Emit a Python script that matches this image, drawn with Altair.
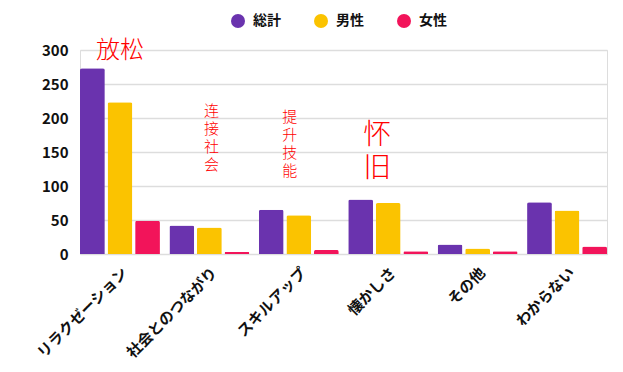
import altair as alt
import pandas as pd

categories = ["リラクゼーション", "社会とのつながり", "スキルアップ", "懐かしさ", "その他", "わからない"]
series = ["総計", "男性", "女性"]
total = [273, 42, 65, 80, 14, 76]
male = [223, 39, 57, 75, 8, 64]
female = [49, 3, 6, 4, 4, 11]
colors = ["#6a33ae", "#fbc300", "#f2145a"]
y_ticks = [0, 50, 100, 150, 200, 250, 300]

ann_text = ["放松", "连接社会", "提升技能", "怀旧"]
ann_cat = ["リラクゼーション", "社会とのつながり", "スキルアップ", "懐かしさ"]
ann_y = [298, 220, 212, 194]

rows = []
for i, c in enumerate(categories):
    for s, vals in zip(series, [total, male, female]):
        rows.append({"cat": c, "series": s, "value": vals[i]})
df = pd.DataFrame(rows)

ann = pd.DataFrame({
    "cat": ann_cat,
    "value": ann_y,
    "text": [t if k == 0 else "\n".join(t) for k, t in enumerate(ann_text)],
    "idx": list(range(len(ann_text))),
})

FONT = "Noto Sans CJK JP"

x_enc = alt.X("cat:N", sort=categories, title=None,
              scale=alt.Scale(paddingInner=0.106, paddingOuter=0),
              axis=alt.Axis(labelAngle=-45, labelFont=FONT, labelFontWeight="bold",
                            labelFontSize=15, labelColor="#111", ticks=False,
                            domain=False, labelPadding=11, labelLimit=200))
y_enc = alt.Y("value:Q", title=None,
              scale=alt.Scale(domain=[0, 300], nice=False),
              axis=alt.Axis(values=y_ticks, labelFont=FONT,
                            labelFontWeight="bold", labelFontSize=15, labelColor="#111",
                            labelOverlap=False, labelBaseline="middle",
                            ticks=False, domain=False, labelPadding=12,
                            gridColor="#dddddd", gridWidth=1.5))

bars = alt.Chart(df).mark_bar(cornerRadiusTopLeft=2, cornerRadiusTopRight=2).encode(
    x=x_enc,
    y=y_enc,
    xOffset=alt.XOffset("series:N", sort=series,
                        scale=alt.Scale(paddingInner=0.1, paddingOuter=0)),
    color=alt.Color("series:N", sort=series,
                    scale=alt.Scale(domain=series, range=colors),
                    legend=alt.Legend(title=None, orient="none", direction="horizontal",
                                      legendX=151, legendY=-36, symbolType="circle",
                                      symbolSize=196, symbolStrokeWidth=0,
                                      labelFont=FONT, labelFontWeight="bold",
                                      labelFontSize=14, labelColor="#111",
                                      labelOffset=8, columnPadding=33, padding=0)),
)

ann_specs = [
    (0, 24, 24, 0, "middle"),
    (1, 15, 18, 2, "top"),
    (2, 15, 18, -9, "top"),
    (3, 28, 33, -11, "top"),
]
layers = [bars]
for idx, fs, lh, dx, bl in ann_specs:
    layers.append(
        alt.Chart(ann).transform_filter(alt.datum.idx == idx).mark_text(
            font="Noto Sans CJK SC", fontSize=fs, lineHeight=lh, color="#ff0000",
            fontWeight=300, lineBreak="\n", baseline=bl, align="center", dx=dx
        ).encode(
            x=x_enc,
            y=y_enc,
            text="text:N",
        )
    )

chart = alt.layer(*layers).properties(
    width=527, height=204,
    autosize=alt.AutoSizeParams(type="none"),
    padding={"left": 72, "top": 42, "right": 8, "bottom": 110},
).configure_view(stroke=None).configure(background="white")

chart.save("out.html", embed_options={"renderer": "svg", "actions": False})
